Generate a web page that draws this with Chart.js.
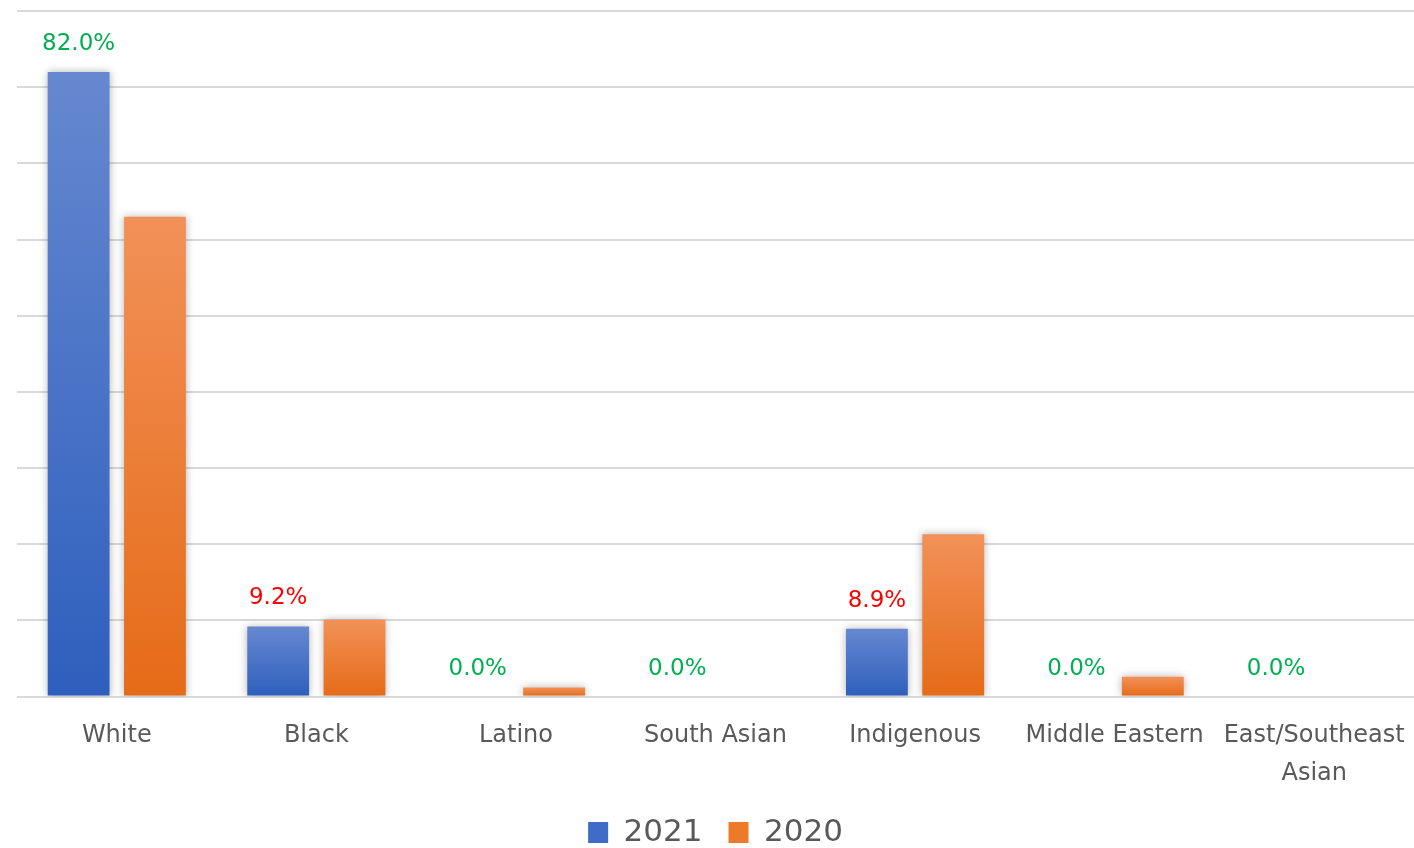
<!DOCTYPE html>
<html>
<head>
<meta charset="utf-8">
<script src="https://cdn.jsdelivr.net/npm/chart.js@4/dist/chart.umd.min.js"></script>
<style>
    html, body { margin: 0; padding: 0; background: #fff; }
    #wrap { width: 1414px; height: 848px; }
</style>
</head>
<body>
<div id="wrap"><canvas id="chart"></canvas></div>
<script>
// values (percent)
const categories = ['White', 'Black', 'Latino', 'South Asian', 'Indigenous', 'Middle Eastern', ['East/Southeast', 'Asian']];
const values2021 = [82.0, 9.2, 0.0, 0.0, 8.9, 0.0, 0.0];
const values2020 = [63.0, 10.1, 1.2, 0.0, 21.3, 2.6, 0.0];
const labelColors = ['#00b050', '#ff0000', '#00b050', '#00b050', '#ff0000', '#00b050', '#00b050'];

// each bar gets its own top-to-bottom gradient, like the original
function barFill(ctx, top, bottom) {
    let chart = ctx.chart;
    if (!chart.chartArea || ctx.type !== 'data') return bottom;
    let y = chart.scales.y;
    let yTop = y.getPixelForValue(ctx.parsed.y);
    let yBase = y.getPixelForValue(0);
    if (yBase - yTop < 1) return bottom;
    let g = chart.ctx.createLinearGradient(0, yTop, 0, yBase);
    g.addColorStop(0, top);
    g.addColorStop(1, bottom);
    return g;
}

const shadow = {
    id: 'shadow',
    beforeDatasetsDraw(chart) {
        let c = chart.ctx;
        c.save();
        c.shadowColor = 'rgba(0,0,0,0.3)';
        c.shadowBlur = 8;
    },
    afterDatasetsDraw(chart) {
        chart.ctx.restore();
    }
};

const valueLabels = {
    id: 'valueLabels',
    afterDraw(chart) {
        let c = chart.ctx;
        let meta = chart.getDatasetMeta(0);
        c.save();
        c.font = '23px "DejaVu Sans"';
        c.textAlign = 'center';
        c.textBaseline = 'middle';
        meta.data.forEach((bar, i) => {
            c.fillStyle = labelColors[i];
            c.fillText(values2021[i].toFixed(1) + '%', bar.x, bar.y - 28);
        });
        c.restore();
    }
};

new Chart(document.getElementById('chart'), {
    type: 'bar',
    data: {
        labels: categories,
        datasets: [
            {
                label: '2021',
                data: values2021,
                backgroundColor: ctx => barFill(ctx, '#6688d0', '#2e5fbd'),
                categoryPercentage: 0.765,
                barPercentage: 0.81
            },
            {
                label: '2020',
                data: values2020,
                backgroundColor: ctx => barFill(ctx, '#f29158', '#e56b17'),
                categoryPercentage: 0.765,
                barPercentage: 0.81
            }
        ]
    },
    options: {
        responsive: true,
        maintainAspectRatio: false,
        animation: false,
        layout: { padding: { left: 17, right: 0, top: 11, bottom: 0 } },
        scales: {
            x: {
                grid: { display: false, drawTicks: false },
                border: { display: false },
                afterFit(scale) {
                    scale.paddingRight = 0;
                    scale.paddingLeft = 0;
                    scale.height -= 22;
                },
                ticks: {
                    autoSkip: false,
                    maxRotation: 0,
                    padding: 21,
                    color: '#595959',
                    font: { family: 'DejaVu Sans', size: 24, lineHeight: 1.55 }
                }
            },
            y: {
                min: 0,
                max: 90,
                ticks: { display: false, stepSize: 10 },
                border: { display: false },
                grid: { color: '#d9d9d9', lineWidth: 2, drawTicks: false }
            }
        },
        plugins: {
            tooltip: { enabled: false },
            legend: {
                position: 'bottom',
                maxHeight: 57,
                labels: {
                    color: '#595959',
                    boxWidth: 20,
                    boxHeight: 21,
                    padding: 26,
                    font: { family: 'DejaVu Sans', size: 31 },
                    generateLabels(chart) {
                        let cols = ['#3f6cc6', '#ed7a2a'];
                        return chart.data.datasets.map((ds, i) => ({
                            text: ds.label,
                            fillStyle: cols[i],
                            strokeStyle: cols[i],
                            lineWidth: 0,
                            fontColor: '#595959',
                            datasetIndex: i
                        }));
                    }
                }
            }
        }
    },
    plugins: [shadow, valueLabels]
});
</script>
</body>
</html>
